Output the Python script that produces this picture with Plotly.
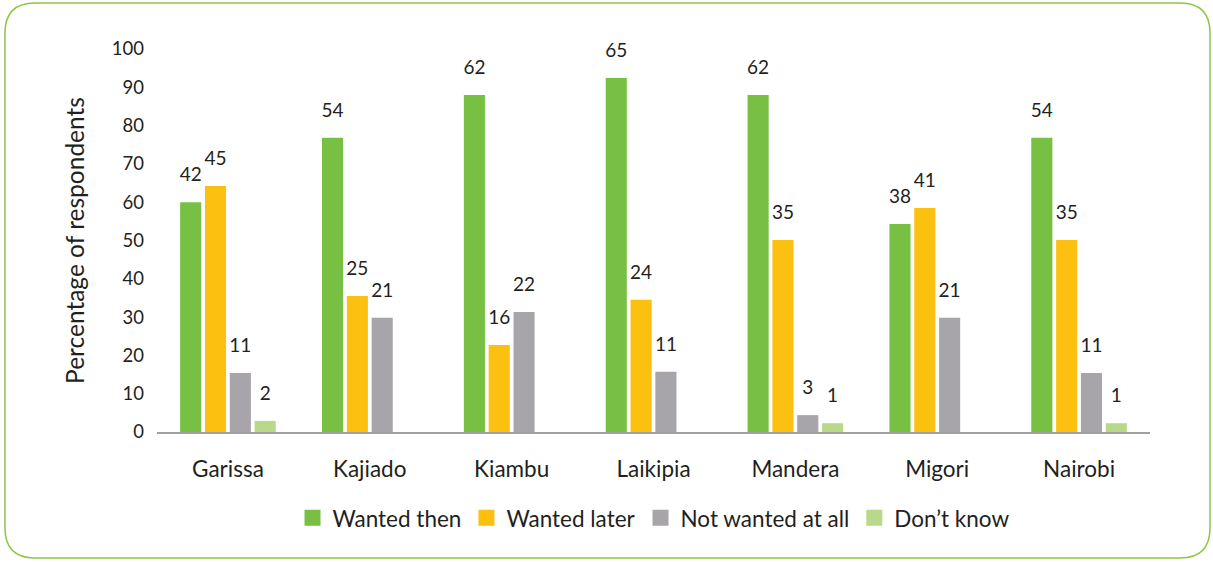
import plotly.graph_objects as go

counties = ["Garissa", "Kajiado", "Kiambu", "Laikipia", "Mandera", "Migori", "Nairobi"]
series_names = ["Wanted then", "Wanted later", "Not wanted at all", "Don\u2019t know"]

# Printed value labels
labels_then = [42, 54, 62, 65, 62, 38, 54]
labels_later = [45, 25, 16, 24, 35, 41, 35]
labels_not = [11, 21, 22, 11, 3, 21, 11]
labels_dk = [2, None, None, None, 1, None, 1]

# Bar heights as drawn in the picture (axis units)
heights_then = [60.0, 76.8, 88.0, 92.4, 88.0, 54.3, 76.8]
heights_later = [64.2, 35.5, 22.7, 34.5, 50.1, 58.5, 50.1]
heights_not = [15.4, 29.8, 31.3, 15.7, 4.4, 29.8, 15.4]
heights_dk = [2.9, None, None, None, 2.3, None, 2.3]

colors = ["#77c043", "#fcc010", "#a7a5aa", "#b8d98a"]
y_ticks = [0, 10, 20, 30, 40, 50, 60, 70, 80, 90, 100]

FONT = "Lato"
TXT = "#231f20"

all_heights = [heights_then, heights_later, heights_not, heights_dk]
all_labels = [labels_then, labels_later, labels_not, labels_dk]

fig = go.Figure()
for i, (name, h, col) in enumerate(zip(series_names, all_heights, colors)):
    fig.add_trace(go.Bar(
        x=counties, y=h, name=name, marker_color=col, marker_line_width=0,
        offsetgroup=str(i), showlegend=False, hoverinfo="skip",
    ))

# value labels, grouped to sit over the bars
for i, (h, lab) in enumerate(zip(all_heights, all_labels)):
    fig.add_trace(go.Scatter(
        x=counties, y=h, mode="markers+text", offsetgroup=str(i),
        text=[("" if v is None else str(v)) for v in lab],
        textposition="top center", cliponaxis=False,
        textfont=dict(family=FONT, size=19, color=TXT),
        marker=dict(size=24, opacity=0), showlegend=False, hoverinfo="skip",
    ))

# legend entries
for name, col in zip(series_names, colors):
    fig.add_trace(go.Scatter(
        x=[None], y=[None], mode="markers", name=name,
        marker=dict(symbol="square", size=16, color=col, line=dict(width=0)),
    ))

# rounded border around the figure (paper coords relative to plot area)
L, R, T, B = 157, 63, 49, 130
pw, ph = 1213 - L - R, 562 - T - B
x0, x1 = (5 - L) / pw, (1210 - L) / pw
y0, y1 = (562 - B - 558) / ph, (562 - B - 3) / ph
rx, ry = 30 / pw, 30 / ph
path = (f"M {x0+rx},{y1} L {x1-rx},{y1} Q {x1},{y1} {x1},{y1-ry} "
        f"L {x1},{y0+ry} Q {x1},{y0} {x1-rx},{y0} "
        f"L {x0+rx},{y0} Q {x0},{y0} {x0},{y0+ry} "
        f"L {x0},{y1-ry} Q {x0},{y1} {x0+rx},{y1} Z")
fig.add_shape(type="path", path=path, xref="paper", yref="paper",
              line=dict(color="#8dc63f", width=1.5), fillcolor="rgba(0,0,0,0)", layer="below")

fig.update_layout(
    width=1213, height=562,
    margin=dict(l=L, r=R, t=T, b=B),
    paper_bgcolor="white", plot_bgcolor="white",
    barmode="group", bargap=0.3, bargroupgap=0.15,
    scattermode="group", scattergap=0.3,
    font=dict(family=FONT, color=TXT, size=19),
    showlegend=True,
    legend=dict(orientation="h", x=0.5, xanchor="center", y=-0.225, yanchor="middle",
                font=dict(family=FONT, size=22.5, color=TXT), itemsizing="trace",
                traceorder="normal"),
    xaxis=dict(showline=True, linecolor="#a0a0a0", linewidth=1.5, showgrid=False,
               ticks="", ticklabelstandoff=16, tickfont=dict(size=22.5)),
    yaxis=dict(range=[0, 100], tickvals=y_ticks, showgrid=False, showline=False,
               zeroline=False, ticks="", ticklabelstandoff=12, tickfont=dict(size=18.5),
               title=dict(text="Percentage of respondents", font=dict(size=24.5), standoff=20)),
)

fig.write_html("out.html", config={"displayModeBar": False},
               post_script="document.body.style.margin='0px';")
